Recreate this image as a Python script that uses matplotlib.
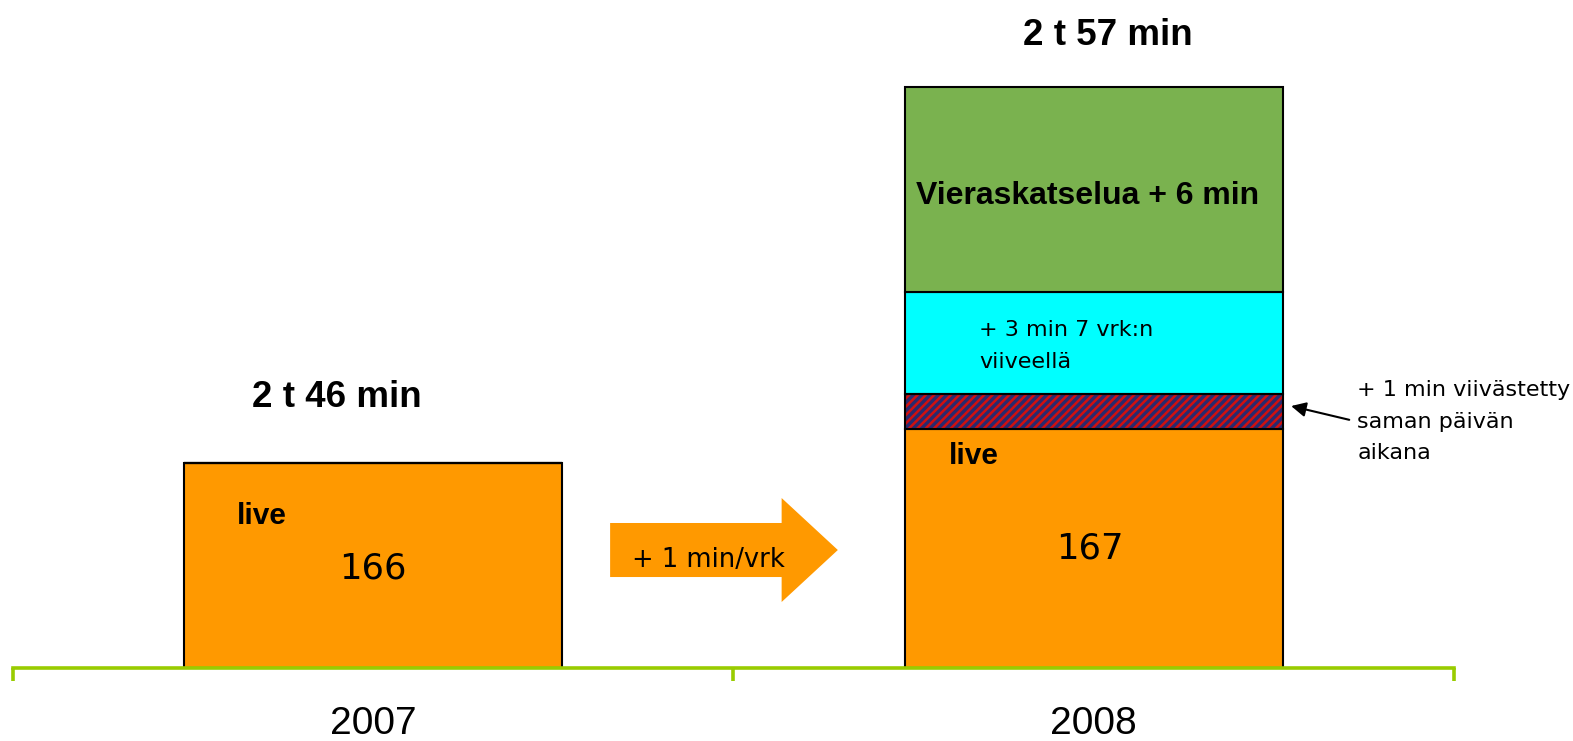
import matplotlib
matplotlib.use("Agg")
import matplotlib.pyplot as plt
from matplotlib.patches import FancyArrow

# ---- data ----
years = ["2007", "2008"]
live = [166, 167]
delayed_same_day = [0, 1]
delayed_7days = [0, 3]
guest_viewing = [0, 6]
totals_label = ["2 t 46 min", "2 t 57 min"]

ORANGE = "#FF9900"
RED = "#D01010"
NAVY = "#2A2A6E"
CYAN = "#00FFFF"
GREEN = "#7AB24F"
AXGREEN = "#99CC00"

W, H = 1573, 741
fig = plt.figure(figsize=(W / 100, H / 100), dpi=100)
ax_left, ax_right = 12.7 / W, 1454 / W
ax_bottom = (H - 668) / H
ax = fig.add_axes([ax_left, ax_bottom, ax_right - ax_left, 1 - ax_bottom])
ymin = 160
ymax = ymin + 668 / 34.2
ax.set_xlim(-0.5, 1.5)
ax.set_ylim(ymin, ymax)

x = [0, 1]
bw = 0.525
b1 = [ymin] * 2
ax.bar(x, [l - ymin for l in live], bw, bottom=b1, color=ORANGE, edgecolor="black", linewidth=1.5, zorder=2)
b2 = live
plt.rcParams["hatch.linewidth"] = 2.4
ax.bar(x, delayed_same_day, bw, bottom=b2, color=RED, edgecolor=NAVY, hatch="////", linewidth=0, zorder=2)
ax.bar(x, delayed_same_day, bw, bottom=b2, fill=False, edgecolor="black", linewidth=1.5, zorder=3)
b3 = [a + b for a, b in zip(b2, delayed_same_day)]
ax.bar(x, delayed_7days, bw, bottom=b3, color=CYAN, edgecolor="black", linewidth=1.5, zorder=2)
b4 = [a + b for a, b in zip(b3, delayed_7days)]
ax.bar(x, guest_viewing, bw, bottom=b4, color=GREEN, edgecolor="black", linewidth=1.5, zorder=2)

# axes styling
for s in ["top", "right", "left"]:
    ax.spines[s].set_visible(False)
ax.spines["bottom"].set_color(AXGREEN)
ax.spines["bottom"].set_linewidth(2.6)
ax.spines["bottom"].set_zorder(4)
ax.set_yticks([])
ax.set_xticks([-0.5, 0.5, 1.5])
ax.set_xticklabels([])
ax.tick_params(axis="x", which="major", direction="out", length=9.5, width=2.6, color=AXGREEN)
ax.set_xticks(x, minor=True)
ax.set_xticklabels(years, minor=True, fontsize=28, family="Liberation Sans")
ax.tick_params(axis="x", which="minor", length=0, pad=27)

BOLD = dict(family="Liberation Sans", fontweight="bold")
# totals
ax.text(-0.05, 167.9, totals_label[0], ha="center", va="center", fontsize=26.5, **BOLD)
ax.text(1.019, 178.48, totals_label[1], ha="center", va="center", fontsize=26.5, **BOLD)

# live labels
ax.text(-0.189, 164.44, "live", ha="left", va="center", fontsize=21.5, **BOLD)
ax.text(0.799, 166.2, "live", ha="left", va="center", fontsize=21.5, **BOLD)
ax.text(0, 162.9, str(live[0]), ha="center", va="center", fontsize=25.5, family="DejaVu Sans")
ax.text(0.995, 163.5, str(live[1]), ha="center", va="center", fontsize=25.5, family="DejaVu Sans")

# segment labels
ax.text(0.991, 173.8, "Vieraskatselua + %d min" % guest_viewing[1], ha="center", va="center", fontsize=23, **BOLD)
ax.text(0.841, 169.42, "+ %d min 7 vrk:n\nviiveellä" % delayed_7days[1], ha="left", va="center",
        fontsize=16, family="DejaVu Sans", linespacing=1.75)

# big arrow
arr = FancyArrow(0.329, 163.45, 0.316, 0, width=1.58, head_width=3.04, head_length=0.078,
                 length_includes_head=True, color=ORANGE, linewidth=0, zorder=2)
ax.add_patch(arr)
ax.text(0.466, 163.15, "+ 1 min/vrk", ha="center", va="center", fontsize=18.5, family="DejaVu Sans", zorder=3)

# annotation
ax.annotate("+ %d min viivästetty\nsaman päivän\naikana" % delayed_same_day[1],
            xy=(1.274, 167.66), xytext=(1.366, 167.2), ha="left", va="center",
            fontsize=16, family="DejaVu Sans", linespacing=1.72,
            arrowprops=dict(arrowstyle="-|>", color="black", lw=1.5, mutation_scale=22,
                            relpos=(0, 0.5), shrinkA=4, shrinkB=0),
            annotation_clip=False)

fig.savefig("out.png", dpi=100)
